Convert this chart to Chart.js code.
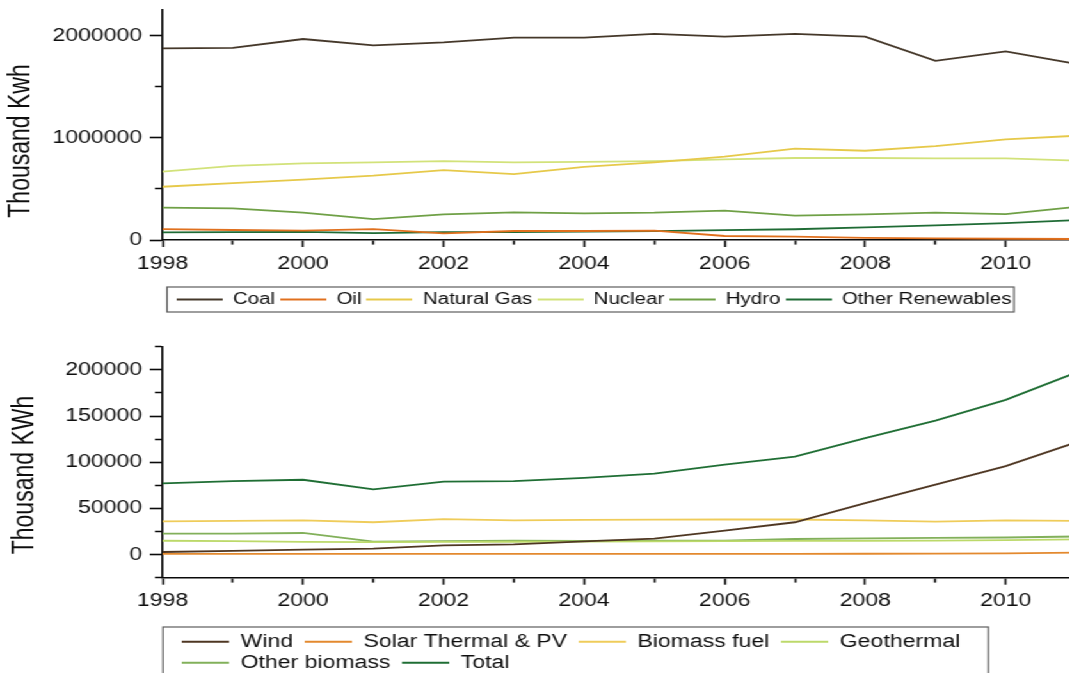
<!DOCTYPE html>
<html>
<head>
<meta charset="utf-8">
<script src="https://cdn.jsdelivr.net/npm/chart.js@4.4.1/dist/chart.umd.min.js"></script>
<style>
    html, body { margin: 0; padding: 0; background: #fff; width: 1069px; height: 673px; overflow: hidden; }
    /* the original picture is stretched sideways, so the whole drawing is too */
    #stretch { position: absolute; left: 0; top: 0; width: 850px; height: 673px; transform: scaleX(1.28); transform-origin: 0 0; }
    #topChart { position: absolute; left: 0; top: 0; }
    #bottomChart { position: absolute; left: 0; top: 320px; }
</style>
</head>
<body>
<div id="stretch">
    <canvas id="topChart" width="850" height="320"></canvas>
    <canvas id="bottomChart" width="850" height="365"></canvas>
</div>
<script>
const years = [1998, 1999, 2000, 2001, 2002, 2003, 2004, 2005, 2006, 2007, 2008, 2009, 2010, 2011];

// top panel, thousand kWh
const topLabels = ['Coal', 'Oil', 'Natural Gas', 'Nuclear', 'Hydro', 'Other Renewables'];
const coal = [1874000, 1880000, 1966000, 1904000, 1934000, 1980000, 1980000, 2017000, 1990000, 2017000, 1990000, 1753000, 1845000, 1722000];
const oil = [107000, 98000, 91000, 107000, 65000, 88000, 88000, 91000, 39000, 33000, 20000, 15000, 12000, 10000];
const naturalGas = [521000, 556000, 590000, 629000, 684000, 645000, 716000, 760000, 815000, 893000, 873000, 919000, 984000, 1020000];
const nuclear = [668000, 726000, 750000, 760000, 772000, 760000, 765000, 772000, 789000, 802000, 802000, 798000, 798000, 777000];
const hydro = [316000, 310000, 267000, 205000, 251000, 270000, 261000, 267000, 287000, 238000, 251000, 267000, 254000, 325000];
const otherRenewables = [74000, 77000, 79000, 68000, 77000, 78000, 82000, 86000, 96000, 105000, 124000, 143000, 165000, 195000];
const topYTicks = [0, 500000, 1000000, 1500000, 2000000];

// bottom panel, thousand kWh
const bottomLabels = ['Wind', 'Solar Thermal & PV', 'Biomass fuel', 'Geothermal', 'Other biomass', 'Total'];
const wind = [2800, 4000, 5400, 6500, 10000, 11000, 14400, 17300, 26000, 35000, 55800, 75700, 95800, 121500];
const solar = [700, 700, 700, 700, 750, 750, 780, 800, 800, 820, 900, 1000, 1300, 2200];
const biomassFuel = [36000, 36500, 37000, 35000, 38500, 37000, 37500, 37800, 38000, 38000, 37000, 35700, 37000, 36500];
const geothermal = [15000, 14500, 13800, 13500, 13800, 13900, 14000, 14300, 14600, 14900, 15000, 15200, 15700, 16500];
const otherBiomass = [22700, 22800, 23400, 14000, 14500, 15000, 14800, 15000, 15200, 16900, 17500, 18000, 18500, 19600];
const total = [77000, 79500, 81000, 70600, 79000, 79500, 83000, 87600, 97300, 106000, 126000, 145000, 167500, 197000];
const bottomYTicks = [-25000, 0, 25000, 50000, 75000, 100000, 125000, 150000, 175000, 200000, 225000];

const FONT = "'Liberation Sans', Arial, sans-serif";
const TEXT = '#0e0e0e';
const AXIS = '#0a0a0a';

const topColors = ['#45382a', '#e0701e', '#e6c94a', '#d2e27a', '#6fa046', '#1f6b35'];
const bottomColors = ['#4e3622', '#e3892e', '#efcc5a', '#bcd96a', '#82b05a', '#1f6e34'];

// legend sample: a short line with some empty room in front of it
function legendLine(color, gap, len) {
    const c = document.createElement('canvas');
    c.width = gap + len;
    c.height = 4;
    const g = c.getContext('2d');
    g.strokeStyle = color;
    g.lineWidth = 1.8;
    g.beginPath();
    g.moveTo(gap, 2);
    g.lineTo(gap + len, 2);
    g.stroke();
    return c;
}

function buildDatasets(labels, series, colors, gap, len) {
    return labels.map((label, i) => ({
        label,
        data: years.map((yr, j) => ({ x: yr, y: series[i][j] })),
        borderColor: colors[i],
        backgroundColor: colors[i],
        borderWidth: 1.8,
        pointRadius: 0,
        pointHoverRadius: 0,
        tension: 0,
        fill: false,
        pointStyle: legendLine(colors[i], gap, len)
    }));
}

const legendFrame = {
    id: 'legendFrame',
    afterLayout(chart, args, o) {
        const lg = chart.legend;
        lg.left += o.shift;
        lg.right += o.shift;
    },
    afterDraw(chart, args, o) {
        const hb = chart.legend.legendHitBoxes;
        if (!hb || !hb.length) return;
        const left = Math.min(...hb.map(b => b.left)) - o.padL;
        const right = Math.max(...hb.map(b => b.left + b.width)) + o.padR;
        const top = Math.min(...hb.map(b => b.top)) - o.padT;
        const bottom = Math.max(...hb.map(b => b.top + b.height)) + o.padB;
        const ctx = chart.ctx;
        ctx.save();
        ctx.strokeStyle = '#5e5e5e';
        ctx.lineWidth = 1.2;
        ctx.strokeRect(left, top, right - left, bottom - top);
        ctx.restore();
    }
};

const sideTitle = {
    id: 'sideTitle',
    afterDraw(chart, args, o) {
        const ctx = chart.ctx;
        ctx.save();
        ctx.translate(o.x, o.y);
        ctx.rotate(-Math.PI / 2);
        ctx.font = `${o.size}px ${FONT}`;
        ctx.fillStyle = TEXT;
        ctx.textAlign = 'center';
        ctx.textBaseline = 'middle';
        ctx.fillText(o.text, 0, 0);
        ctx.restore();
    }
};

function buildScales(o) {
    return {
        x: {
            type: 'linear', min: 1998, max: 2011,
            afterBuildTicks: s => { s.ticks = years.map(v => ({ value: v })); },
            afterFit: s => { s.height = o.xHeight; s.paddingLeft = 0; s.paddingRight = 0; },
            border: { color: AXIS, width: 1.6 },
            grid: {
                drawOnChartArea: false, tickLength: 7, tickWidth: 1.6, tickColor: AXIS,
                tickBorderDash: c => (c.tick && c.tick.value % 2) ? [4, 100] : []
            },
            ticks: {
                autoSkip: false, maxRotation: 0, minRotation: 0, padding: 6,
                color: TEXT, font: { family: FONT, size: 18 },
                callback: v => v % 2 ? '' : String(v)
            }
        },
        y: {
            min: o.yMin, max: o.yMax,
            afterBuildTicks: s => { s.ticks = o.yTicks.map(v => ({ value: v })); },
            afterFit: s => { s.width = 127; s.paddingTop = 0; s.paddingBottom = 0; },
            border: { color: AXIS, width: 1.6 },
            grid: {
                drawOnChartArea: false, tickLength: 10, tickWidth: 1.6, tickColor: AXIS,
                tickBorderDash: c => (c.tick && c.tick.value % o.labelStep) ? [0, 4, 6, 100] : []
            },
            ticks: {
                autoSkip: false, padding: 6, color: TEXT, font: { family: FONT, size: 18 },
                callback: v => (v % o.labelStep || v < 0) ? '' : String(v)
            }
        }
    };
}

new Chart(document.getElementById('topChart'), {
    type: 'line',
    data: { datasets: buildDatasets(topLabels, [coal, oil, naturalGas, nuclear, hydro, otherRenewables], topColors, 0, 36) },
    options: {
        responsive: false, animation: false, devicePixelRatio: 1,
        layout: { padding: { top: 10, left: 0, right: 9.4, bottom: 2.5 } },
        scales: buildScales({ xHeight: 47.5, yMin: 0, yMax: 2250000, yTicks: topYTicks, labelStep: 1000000 }),
        plugins: {
            tooltip: { enabled: false },
            legend: {
                position: 'bottom', align: 'start', fullSize: false,
                labels: { usePointStyle: true, pointStyleWidth: 36, padding: 4, color: TEXT, font: { family: FONT, size: 16 } }
            },
            legendFrame: { shift: 7, padL: 7.5, padT: 4.5, padR: 2, padB: 4.5 },
            sideTitle: { text: 'Thousand Kwh', x: 16.5, y: 141, size: 23 }
        }
    },
    plugins: [legendFrame, sideTitle]
});

new Chart(document.getElementById('bottomChart'), {
    type: 'line',
    data: { datasets: buildDatasets(bottomLabels, [wind, solar, biomassFuel, geothermal, otherBiomass, total], bottomColors, 6, 37) },
    options: {
        responsive: false, animation: false, devicePixelRatio: 1,
        layout: { padding: { top: 26.7, left: 0, right: 9.4, bottom: 3.3 } },
        scales: buildScales({ xHeight: 52, yMin: -25000, yMax: 225000, yTicks: bottomYTicks, labelStep: 50000 }),
        plugins: {
            tooltip: { enabled: false },
            legend: {
                position: 'bottom', align: 'start', fullSize: false,
                labels: { usePointStyle: true, pointStyleWidth: 43, padding: 3, color: TEXT, font: { family: FONT, size: 18 } }
            },
            legendFrame: { shift: 6, padL: 8.7, padT: 5.7, padR: 22, padB: 10 },
            sideTitle: { text: 'Thousand KWh', x: 20, y: 155, size: 23 }
        }
    },
    plugins: [legendFrame, sideTitle]
});
</script>
</body>
</html>
